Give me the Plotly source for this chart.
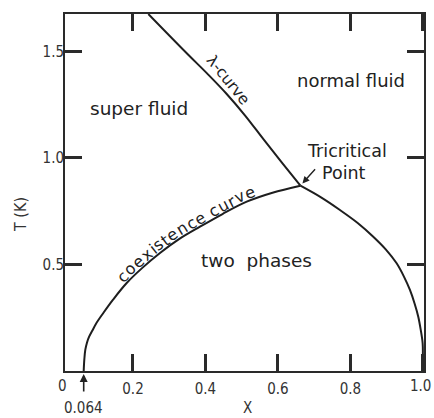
import numpy as np
import plotly.graph_objects as go

# ---- data ----
lambda_x = [0.2423, 0.3504, 0.405, 0.4586, 0.510, 0.5615, 0.612, 0.662]
lambda_t = [1.676, 1.4882, 1.396, 1.3005, 1.198, 1.0845, 0.976, 0.87]
coex_left_x = [0.064, 0.0648, 0.0660, 0.0685, 0.0730, 0.079, 0.088, 0.098, 0.1181, 0.145,
               0.1826, 0.225, 0.2745, 0.327, 0.3849, 0.447, 0.5138, 0.585, 0.662]
coex_left_t = [0.0, 0.03, 0.06, 0.10, 0.133, 0.161, 0.19, 0.222, 0.2723, 0.335,
               0.4131, 0.483, 0.554, 0.619, 0.6775, 0.737, 0.7948, 0.837, 0.87]
coex_right_x = [0.662, 0.72, 0.7711, 0.82, 0.863, 0.898, 0.9275, 0.948, 0.9642, 0.977,
                0.9872, 0.994, 0.9993, 0.9999, 1.0]
coex_right_t = [0.87, 0.814, 0.7558, 0.695, 0.6305, 0.57, 0.5056, 0.442, 0.3803, 0.317,
                0.2549, 0.193, 0.13, 0.065, 0.0]
x_ticks = [0.2, 0.4, 0.6, 0.8, 1.0]
x_tick_text = ["0.2", "0.4", "0.6", "0.8", "1.0"]
y_ticks = [0.5, 1.0, 1.5]
y_tick_text = ["0.5", "1.0", "1.5"]
tricritical = (0.662, 0.87)
x_min_label = 0.064

# ---- layout geometry ----
W, H = 434, 418
ML, MR, MT, MB = 65, 10, 14, 47
XR = [0.0124, 1.003]
YR = [0.0, 1.676]
PW, PH = W - ML - MR, H - MT - MB
TL = 17  # tick length (px)

TICKFONT = dict(family="DejaVu Sans Condensed, Liberation Sans Narrow, DejaVu Sans", size=15, color="#333")
LBLFONT = dict(family="DejaVu Sans", size=18, color="#222")
LINE = dict(color="#1e1e1e", width=2)
AXC = "#2a2a2a"

def d2p(x, y):
    return (ML + (x - XR[0]) / (XR[1] - XR[0]) * PW,
            MT + (YR[1] - y) / (YR[1] - YR[0]) * PH)

def p2d(px, py):
    return (XR[0] + (px - ML) / PW * (XR[1] - XR[0]),
            YR[1] - (py - MT) / PH * (YR[1] - YR[0]))

fig = go.Figure()
for xs, ts in [(lambda_x, lambda_t), (coex_left_x, coex_left_t), (coex_right_x, coex_right_t)]:
    fig.add_trace(go.Scatter(x=xs, y=ts, mode="lines",
                             line=dict(shape="spline", smoothing=1.0, **LINE)))

ann = []
def label(text, x, y, size=18, angle=0, xref="x", yref="y", font=None, xanchor="center"):
    f = dict(LBLFONT) if font is None else dict(font)
    f["size"] = size
    ann.append(dict(text=text, x=float(x), y=float(y), xref=xref, yref=yref, showarrow=False,
                    textangle=float(angle), font=f, xanchor=xanchor, yanchor="middle"))

label("super fluid", *p2d(139, 108), size=18.5)
label("normal fluid", *p2d(351, 80), size=18)
label("Tricritical", *p2d(347, 151), size=17.5)
label("Point", *p2d(344, 173), size=17.5)
label("two  phases", *p2d(256, 260), size=18.5)
label("λ-curve", *p2d(228, 80), size=15.5, angle=51)

# coexistence curve text laid along the curve
pts = np.array([d2p(x, y) for x, y in zip(coex_left_x, coex_left_t)])
seg = np.hypot(np.diff(pts[:, 0]), np.diff(pts[:, 1]))
arc = np.concatenate([[0], np.cumsum(seg)])
widths = {"c": .55, "o": .612, "e": .615, "x": .592, "i": .278, "s": .521, "t": .392,
          "n": .634, " ": .318, "u": .634, "r": .411, "v": .592}
cfs = 16
spacing = 1.1
s = np.interp(125, pts[:, 0], arc)
for ch in "coexistence curve":
    w = widths.get(ch, .6) * cfs * spacing
    sc = s + w / 2
    px = np.interp(sc, arc, pts[:, 0]); py = np.interp(sc, arc, pts[:, 1])
    ax0 = np.interp(sc - 12, arc, pts[:, 0]); ay0 = np.interp(sc - 12, arc, pts[:, 1])
    ax1 = np.interp(sc + 12, arc, pts[:, 0]); ay1 = np.interp(sc + 12, arc, pts[:, 1])
    ux, uy = ax1 - ax0, ay1 - ay0
    nrm = np.hypot(ux, uy); ux, uy = ux / nrm, uy / nrm
    off = 7.5
    cx, cy = px + uy * off, py - ux * off
    ang = np.degrees(np.arctan2(uy, ux))
    if ch != " ":
        label(ch, *p2d(cx, cy), size=cfs, angle=ang)
    s += w

# axis titles and special labels
label("T (K)", (20 - ML) / PW, (H - MB - 215) / PH, size=16, angle=-90,
      xref="paper", yref="paper", font=TICKFONT)
label("X", 0.517, -(408 - (H - MB)) / PH, size=15, yref="paper", font=TICKFONT)
label("0.064", x_min_label, -(408 - (H - MB)) / PH, size=15, yref="paper", font=TICKFONT)
label("0", (62 - ML) / PW, -(386 - (H - MB)) / PH, size=15, xref="paper", yref="paper", font=TICKFONT)
label(x_tick_text[-1], (433 - ML) / PW, -(386 - (H - MB)) / PH, size=15, xref="paper", yref="paper",
      font=TICKFONT, xanchor="right")

ann.append(dict(x=x_min_label, y=0, xref="x", yref="y", text="", showarrow=True,
                ax=0, ay=22, arrowhead=2, arrowsize=1, arrowwidth=1.6, arrowcolor="#222", standoff=3))
ann.append(dict(x=tricritical[0], y=tricritical[1], xref="x", yref="y", text="", showarrow=True,
                ax=16, ay=-18, arrowhead=2, arrowsize=1, arrowwidth=1.4, arrowcolor="#222", standoff=3))

axis_common = dict(showgrid=False, zeroline=False, showline=True, linewidth=2, linecolor=AXC,
                   mirror="ticks", ticks="inside", ticklen=TL, tickwidth=2.5, tickcolor=AXC,
                   tickfont=TICKFONT, tickmode="array", automargin=False)
fig.update_layout(
    width=W, height=H, margin=dict(l=ML, r=MR, t=MT, b=MB, autoexpand=False),
    paper_bgcolor="white", plot_bgcolor="white", showlegend=False,
    xaxis=dict(range=XR, tickvals=x_ticks, ticktext=x_tick_text[:-1] + [""], ticklabelstandoff=3, **axis_common),
    yaxis=dict(range=YR, tickvals=y_ticks, ticktext=y_tick_text, ticklabelstandoff=-4, **axis_common),
    annotations=ann,
)
fig.write_html("out.html")
